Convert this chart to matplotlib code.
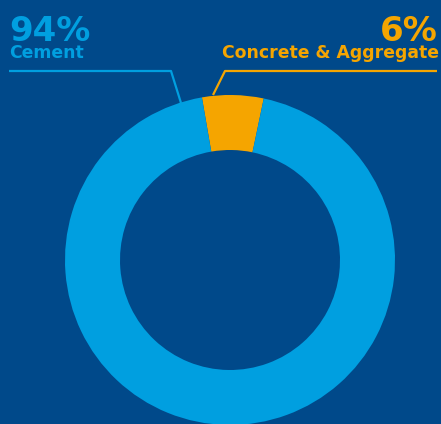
import matplotlib.pyplot as plt

labels = ["Concrete & Aggregate", "Cement"]
shares = [6, 94]
colors = ["#F5A500", "#009FE0"]
bg = "#00498A"

W, H = 441, 424
fig = plt.figure(figsize=(W / 100, H / 100), dpi=100, facecolor=bg)
ax = fig.add_axes([0, 0, 1, 1])
ax.set_facecolor(bg)

cx, cy, r = 230, H - 260, 165
ax.pie(shares, colors=colors, startangle=78.2, center=(cx, cy), radius=r,
       wedgeprops=dict(width=55, linewidth=0), frame=True)
ax.set_xlim(0, W)
ax.set_ylim(0, H)
ax.set_aspect("equal")
ax.axis("off")

# leader lines
ax.plot([9, 171, 181], [H - 71, H - 71, H - 103], color=colors[1], lw=1.6, solid_capstyle="butt")
ax.plot([437, 225, 213], [H - 71, H - 71, H - 95], color=colors[0], lw=1.6, solid_capstyle="butt")

# labels
ax.text(9, H - 41, f"{shares[1]}%", color=colors[1], fontsize=24.5, fontweight="bold",
        ha="left", va="baseline")
ax.text(9, H - 58, labels[1], color=colors[1], fontsize=12.4, fontweight="bold",
        ha="left", va="baseline")
ax.text(438, H - 41, f"{shares[0]}%", color=colors[0], fontsize=24.5, fontweight="bold",
        ha="right", va="baseline")
ax.text(439, H - 58, labels[0], color=colors[0], fontsize=12.4, fontweight="bold",
        ha="right", va="baseline")

fig.savefig("out.png", dpi=100, facecolor=bg)
